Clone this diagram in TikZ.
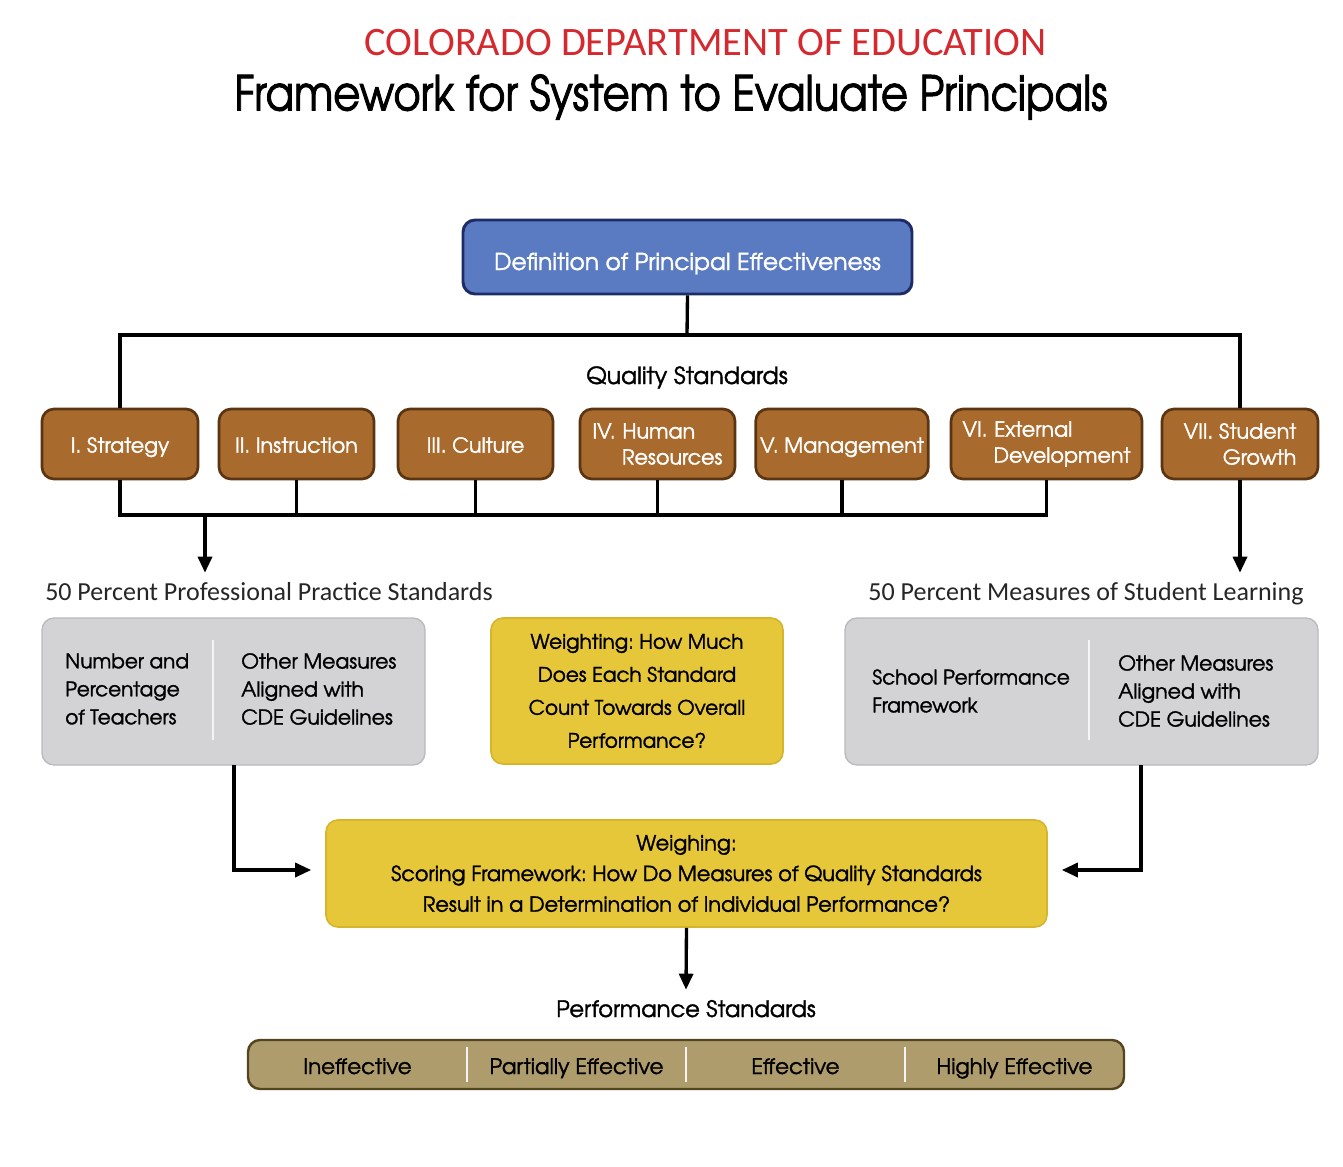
\documentclass[tikz,border=0pt]{standalone}
\usepackage{fontspec}
\setmainfont{Carlito}
\newfontfamily\adv[Extension=.otf,UprightFont=*-regular,BoldFont=*-bold,FakeBold=1.5]{texgyreadventor}
\newfontfamily\advt[Extension=.otf,UprightFont=*-regular,BoldFont=*-bold,FakeBold=2]{texgyreadventor}
\usetikzlibrary{arrows.meta,calc}
\definecolor{cdered}{HTML}{D42A2F}
\definecolor{bluefill}{HTML}{5A7BC1}
\definecolor{blueedge}{HTML}{1D2B66}
\definecolor{brownfill}{HTML}{A86B2D}
\definecolor{brownedge}{HTML}{5B3511}
\definecolor{grayfill}{HTML}{D3D3D6}
\definecolor{grayedge}{HTML}{BABABD}
\definecolor{yelfill}{HTML}{E6C73A}
\definecolor{yeledge}{HTML}{D6B52C}
\definecolor{barfill}{HTML}{AE9C6C}
\definecolor{baredge}{HTML}{55451F}
\tikzset{
  bw/.style={minimum width=#1*0.75pt},
  bh/.style={minimum height=#1*0.75pt},
  % baseline #1 px below the node centre
  basedown/.style={text height=#1*1.5pt, text depth=0pt},
  bluebox/.style={draw=blueedge, fill=bluefill, line width=2.2pt, rounded corners=9pt, text=white, font=\adv\fontsize{17.5}{21}\selectfont},
  brownbox/.style={draw=brownedge, fill=brownfill, line width=2pt, rounded corners=9pt, text=white, font=\adv\fontsize{15.5}{19.5}\selectfont, bh=70},
  graybox/.style={draw=grayedge, fill=grayfill, line width=1pt, rounded corners=9pt},
  yelbox/.style={draw=yeledge, fill=yelfill, line width=1.2pt, rounded corners=9pt},
  boxtxt/.style={inner sep=0pt, align=left, anchor=west, font=\adv\fontsize{15}{21}\selectfont},
  lbl/.style={inner sep=0pt, anchor=base, font=\fontsize{19.5}{22}\selectfont, text=black!85},
  conn/.style={line width=2.5pt, black},
  arr/.style={conn, -{Triangle[length=12pt,width=10.5pt]}},
  divider/.style={white!92!gray, line width=1.6pt},
}
\frenchspacing
\begin{document}
\begin{tikzpicture}[x=0.75pt,y=-0.75pt]
\frenchspacing
\useasboundingbox (0,0) rectangle (1343,1167);
\fill[white] (0,0) rectangle (1343,1167);

% titles
\node[inner sep=0pt, text=cdered, font=\fontsize{30.3}{34}\selectfont] (t1) at (705.5,43) {COLORADO DEPARTMENT OF EDUCATION};
\node[inner sep=0pt, font=\advt\fontsize{36}{40}\selectfont] (t2) at (671,97) {\scalebox{0.87}[1]{Framework for System to Evaluate Principals}};

% definition box
\node[bluebox, basedown=13, bw=449, bh=74] (def) at (687.5,257) {Definition of Principal Effectiveness};

\node[inner sep=0pt, anchor=base, font=\adv\fontsize{17.7}{21}\selectfont] (qs) at (687,384) {Quality Standards};

% quality standards
\node[brownbox, basedown=8.7, bw=156] (s1) at (120,444) {I. Strategy};
\node[brownbox, basedown=8.7, bw=155] (s2) at (296.5,444) {II. Instruction};
\node[brownbox, basedown=8.7, bw=155] (s3) at (475.5,444) {III. Culture};
\node[brownbox, bw=155, text width=130*0.75pt, align=left, inner xsep=0pt] (s4) at (657.5,444) {IV. Human\\\hspace*{\fill}Resources};
\node[brownbox, basedown=8.7, bw=168] (s5) at (842,444) {V. Management};
\node[brownbox, bw=191, text width=168*0.75pt, align=left, inner xsep=0pt] (s6) at (1046.5,444) {VI. External\\\hspace*{\fill}Development};
\node[brownbox, bw=156, align=right] (s7) at (1240,444) {VII. Student\\Growth};

% top bus
\coordinate (topbus) at (687,335);
\draw[conn] (def.south) -- (topbus);
\draw[conn] (s1.north) |- (topbus) -| (s7.north);

% bottom bus
\coordinate (botbus) at (600,515);
\draw[conn] (s1.south) |- (s6.south |- botbus) -- (s6.south);
\foreach \n in {s2,s3,s4,s5} \draw[conn] (\n.south) -- (\n.south |- botbus);

% labels
\node[lbl] (lblL) at (269,600) {50 Percent Professional Practice Standards};
\node[lbl] (lblR) at (1086,600) {50 Percent Measures of Student Learning};
\coordinate (a1) at (205,515);
\draw[arr] (a1) -- ($(a1 |- lblL.north)+(0,-9)$);
\draw[arr] (s7.south) -- ($(s7.south |- lblR.north)+(0,-9)$);

% gray boxes
\node[graybox, bw=383, bh=147] (gL) at (233.5,691.5) {};
\draw[divider] (213,640) -- (213,740);
\node[boxtxt] (gL1) at (65,689) {Number and\\Percentage\\of Teachers};
\node[boxtxt, font=\adv\fontsize{15.3}{21}\selectfont] (gL2) at (241,689) {Other Measures\\Aligned with\\CDE Guidelines};

\node[graybox, bw=473, bh=147] (gR) at (1081.5,691.5) {};
\draw[divider] (1089,640) -- (1089,740);
\node[boxtxt] (gR1) at (872,691) {School Performance\\Framework};
\node[boxtxt, font=\adv\fontsize{15.3}{21}\selectfont] (gR2) at (1118,691) {Other Measures\\Aligned with\\CDE Guidelines};

% weighting box
\node[yelbox, bw=292, bh=146, align=center, font=\adv\fontsize{15}{24.75}\selectfont] (wt) at (637,691) {Weighting: How Much\\Does Each Standard\\Count Towards Overall\\Performance?};

% scoring box
\node[yelbox, bw=721, bh=107, align=center, font=\adv\fontsize{15.6}{23}\selectfont] (sc) at (686.5,873.5) {Weighing:\\Scoring Framework: How Do Measures of Quality Standards\\Result in a Determination of Individual Performance?};

\coordinate (gLo) at (234,765);
\coordinate (gRo) at (1141,765);
\draw[arr] (gLo) |- ($(sc.west)+(-14,-3.5)$);
\draw[arr] (gRo) |- ($(sc.east)+(14,-3.5)$);

% performance standards
\node[inner sep=0pt, anchor=base, font=\adv\fontsize{17}{21}\selectfont] (perf) at (686,1017) {Performance Standards};
\draw[arr] (sc.south) -- ($(perf.north)+(0,-10)$);

\node[draw=baredge, fill=barfill, line width=1.8pt, rounded corners=9pt, bw=876, bh=49] (bar) at (686,1064.5) {};
\foreach \x in {467,686,905} \draw[divider] (\x,1047) -- (\x,1082);
\tikzset{cell/.style={inner sep=0pt, anchor=base, font=\adv\fontsize{16}{20}\selectfont}}
\node[cell] (p1) at (357.5,1074) {Ineffective};
\node[cell] (p2) at (576.5,1074) {Partially Effective};
\node[cell] (p3) at (795.5,1074) {Effective};
\node[cell] (p4) at (1014.5,1074) {Highly Effective};
\end{tikzpicture}
\end{document}
